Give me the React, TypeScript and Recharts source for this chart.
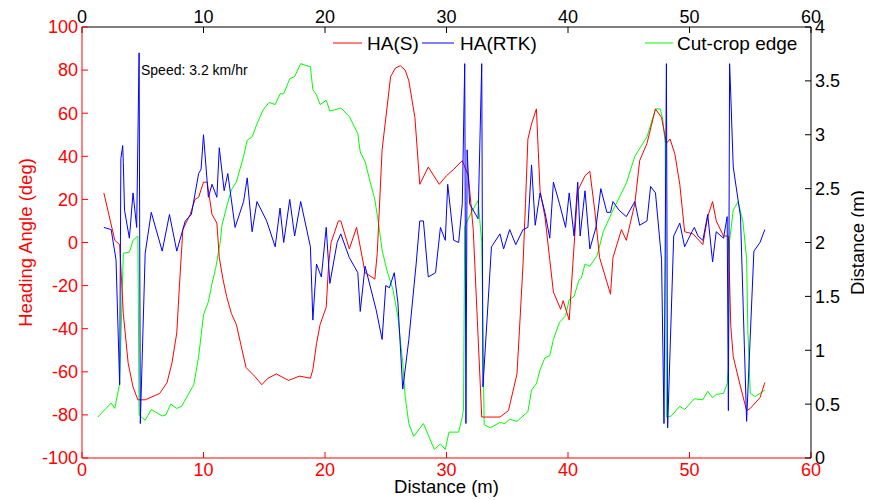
import { ComposedChart, Line, XAxis, YAxis } from 'recharts';

const xTicks = [0, 10, 20, 30, 40, 50, 60];
const angleTicks = [-100, -80, -60, -40, -20, 0, 20, 40, 60, 80, 100];
const distTicks = [0, 0.5, 1, 1.5, 2, 2.5, 3, 3.5, 4];

// HA(S) - heading angle from sensor (deg)
const haSX = [1.8, 2.7, 3.1, 3.4, 3.8, 4.2, 4.6, 5.2, 6.4, 7.0, 7.4, 7.8, 8.0, 8.3, 8.9, 9.3, 9.6, 10.0, 10.3, 10.7, 11.1, 11.3, 11.6, 11.9, 12.3, 12.7, 13.5, 14.2, 14.8, 15.3, 16.0, 17.0, 17.9, 18.8, 19.0, 19.3, 19.6, 20.1, 20.3, 20.5, 21.1, 21.3, 22.0, 22.6, 23.3, 24.1, 24.3, 24.7, 25.4, 25.8, 26.2, 26.6, 26.9, 27.4, 27.8, 28.5, 29.4, 30.0, 30.6, 31.3, 31.8, 32.2, 32.9, 33.1, 34.4, 35.1, 35.8, 36.0, 36.3, 36.5, 36.7, 37.0, 37.4, 37.7, 38.1, 38.5, 38.8, 39.4, 39.6, 40.1, 40.4, 40.8, 41.4, 41.8, 42.2, 42.6, 43.5, 43.7, 44.4, 44.8, 45.5, 45.9, 46.5, 47.2, 47.7, 48.1, 48.4, 48.8, 49.2, 49.6, 50.3, 51.1, 51.5, 51.9, 52.2, 52.8, 53.2, 53.4, 53.6, 54.2, 54.7, 55.0, 55.8, 56.2];
const haSY = [23, 1, -1, -33, -56, -67, -73, -73, -70, -65, -56, -42, -22, 6, 13, 20, 21, 28, 28, 13, 9, -7, -17, -25, -33, -38, -58, -62, -66, -63, -61, -64, -62, -63, -59, -47, -38, -30, -10, 0, 10, 10, -3, 7, -14, -17, -5, 43, 77, 81, 82, 80, 75, 58, 27, 35, 27, 31, 34, 38, 31, 6, -81, -81, -81, -78, -61, -41, -10, 18, 48, 55, 62, 24, 12, -8, -23, -31, -27, -36, -10, 24, 31, 33, 15, -7, -24, -7, 6, 1, 18, 38, 46, 62, 58, 46, 48, 41, 27, 5, 4, -1, 12, 19, 10, 3, 3, -39, -53, -67, -78, -77, -72, -65];

// HA(RTK) - heading angle from RTK GPS (deg)
const haRtkX = [1.8, 2.4, 2.8, 3.1, 3.2, 3.35, 3.4, 3.5, 3.9, 4.2, 4.5, 4.7, 4.8, 5.2, 5.7, 6.6, 7.2, 7.8, 8.5, 9.0, 9.6, 9.8, 10.0, 10.4, 10.7, 11.1, 11.3, 11.7, 12.0, 12.6, 13.3, 13.6, 14.0, 14.4, 15.2, 15.9, 16.3, 16.6, 17.1, 17.5, 18.0, 18.8, 19.0, 19.3, 19.7, 20.1, 20.4, 21.0, 21.3, 22.0, 22.7, 22.9, 23.3, 24.2, 24.7, 25.0, 25.3, 25.7, 26.0, 26.4, 26.9, 27.5, 27.8, 28.1, 28.5, 29.1, 29.5, 29.9, 30.1, 30.6, 31.0, 31.3, 31.5, 31.6, 31.7, 31.9, 32.6, 32.9, 33.0, 33.7, 34.4, 34.7, 35.2, 35.7, 36.3, 36.7, 37.0, 37.3, 37.7, 38.1, 38.5, 38.8, 39.3, 39.8, 40.1, 40.5, 40.8, 41.0, 41.4, 41.8, 42.3, 42.7, 43.2, 43.5, 43.7, 44.2, 44.8, 45.5, 45.9, 46.5, 46.8, 47.2, 47.7, 47.9, 48.1, 48.2, 48.7, 49.2, 49.6, 50.2, 50.4, 50.7, 51.1, 51.5, 51.9, 52.2, 52.8, 53.1, 53.2, 53.3, 53.4, 53.6, 54.2, 54.7, 55.3, 55.8, 56.2];
const haRtkY = [7, 6, -8, -66, 39, 45, 37, 15, 2, 23, 7, 88, -84, -5, 14, -4, 13, -4, 10, 13, 32, 34, 50, 21, 27, 21, 44, 24, 32, 7, 19, 30, 5, 19, 10, -2, 16, 0, 20, 3, 19, -2, -36, -10, -16, 7, -19, 0, 4, -7, -14, -32, -11, -31, -45, -20, -21, -14, -28, -68, -45, -10, 10, 10, -16, -14, 7, 1, 27, 1, 0, 18, 83, -84, 43, 18, 11, 83, -67, -2, 4, -3, 6, -1, 6, 7, 36, 8, 23, 14, 2, 28, 18, 7, 23, 3, 28, 3, 24, -3, 7, 25, 14, 14, 19, 15, 12, 19, 8, 10, 26, 23, -8, -84, 83, -86, 3, 9, -2, 5, 7, 3, 1, 13, -9, 5, 2, 12, -78, 83, 68, 35, 12, -83, -4, 0, 6];

// Cut-crop edge distance (m), right axis
const edgeX = [1.3, 2.4, 2.7, 3.1, 3.4, 3.9, 4.2, 4.6, 4.7, 5.2, 5.7, 6.6, 6.9, 7.3, 7.8, 8.2, 9.2, 9.6, 10.0, 10.4, 10.7, 11.0, 11.4, 11.5, 11.9, 12.3, 12.7, 13.3, 13.6, 14.0, 14.4, 14.9, 15.4, 15.9, 16.3, 16.6, 17.1, 17.5, 18.0, 18.8, 19.0, 19.3, 19.6, 20.1, 20.4, 20.8, 21.3, 22.0, 22.7, 22.9, 23.3, 23.7, 24.1, 24.4, 24.7, 25.1, 25.6, 26.0, 26.4, 26.6, 26.9, 27.3, 28.1, 29.0, 29.5, 29.9, 30.2, 31.0, 31.3, 31.4, 31.5, 32.1, 32.6, 32.9, 33.1, 33.6, 34.4, 34.8, 35.2, 35.8, 36.7, 37.0, 37.4, 37.7, 38.1, 38.5, 38.8, 39.3, 39.8, 40.1, 40.5, 40.9, 41.1, 41.4, 41.8, 42.4, 42.9, 43.7, 44.8, 45.5, 46.5, 47.2, 47.6, 47.8, 48.0, 48.1, 48.5, 49.2, 49.6, 50.4, 51.1, 51.5, 51.9, 52.2, 52.8, 53.1, 53.2, 53.3, 53.6, 54.0, 54.4, 54.7, 54.8, 55.0, 55.4, 56.2];
const edgeY = [0.38, 0.51, 0.46, 0.69, 1.9, 1.91, 2.02, 2.06, 0.4, 0.35, 0.45, 0.39, 0.4, 0.5, 0.46, 0.48, 0.68, 0.94, 1.33, 1.45, 1.62, 1.76, 2.02, 2.15, 2.33, 2.49, 2.56, 2.8, 2.95, 2.98, 3.1, 3.23, 3.3, 3.28, 3.38, 3.38, 3.52, 3.54, 3.66, 3.63, 3.42, 3.37, 3.28, 3.32, 3.22, 3.23, 3.25, 3.17, 3.01, 2.84, 2.75, 2.57, 2.4, 2.18, 1.93, 1.74, 1.56, 1.31, 0.88, 0.57, 0.32, 0.2, 0.32, 0.08, 0.13, 0.08, 0.24, 0.24, 0.38, 0.45, 2.15, 2.29, 2.39, 2.0, 0.31, 0.28, 0.33, 0.32, 0.36, 0.34, 0.43, 0.63, 0.69, 0.82, 0.93, 0.95, 1.1, 1.26, 1.32, 1.47, 1.5, 1.65, 1.67, 1.8, 1.78, 1.88, 2.1, 2.3, 2.55, 2.8, 2.98, 3.24, 3.24, 3.14, 2.92, 0.38, 0.39, 0.48, 0.45, 0.55, 0.54, 0.62, 0.56, 0.59, 0.6, 0.69, 0.85, 2.02, 2.3, 2.38, 2.19, 1.85, 1.19, 0.6, 0.57, 0.63];

const zip = (xs: number[], ys: number[]) => xs.map((x, i) => ({ x, y: ys[i] }));

const haSData = zip(haSX, haSY);
const haRtkData = zip(haRtkX, haRtkY);
const edgeData = zip(edgeX, edgeY);

const RED = '#ff0000';
const BLUE = '#0000ff';
const GREEN = '#00ff00';
const FONT = '"Liberation Sans", Arial, sans-serif';

function LegendBox() {
  const items = [
    { name: 'HA(S)', color: RED, x1: 325, x2: 354, tx: 359 },
    { name: 'HA(RTK)', color: BLUE, x1: 414, x2: 446, tx: 452 },
    { name: 'Cut-crop edge', color: GREEN, x1: 637, x2: 665, tx: 669 },
  ];
  return (
    <svg width={864} height={60} style={{ position: 'absolute', left: 0, top: 0, pointerEvents: 'none' }}>
      {items.map((it) => (
        <g key={it.name}>
          <line x1={it.x1} x2={it.x2} y1={35} y2={35} stroke={it.color} strokeWidth={1} />
          <text x={it.tx} y={42} fontSize={19} fill="#000" fontFamily={FONT}>
            {it.name}
          </text>
        </g>
      ))}
    </svg>
  );
}

export default function App() {
  return (
    <div style={{ position: 'relative', width: 864, height: 492, fontFamily: FONT, background: '#fff' }}>
      <ComposedChart width={864} height={492} margin={{ top: 0, right: 0, bottom: 0, left: 0 }}>
        <XAxis
          xAxisId="bottom"
          dataKey="x"
          type="number"
          domain={[0, 60]}
          ticks={xTicks}
          interval={0}
          allowDataOverflow
          height={42}
          stroke={RED}
          tickSize={-6}
          tickMargin={11}
          tick={{ fill: RED, fontSize: 18 }}
          label={{ value: 'Distance (m)', position: 'insideBottom', offset: 7, fill: '#000', fontSize: 18.5 }}
        />
        <XAxis
          xAxisId="top"
          orientation="top"
          dataKey="x"
          type="number"
          domain={[0, 60]}
          ticks={xTicks}
          interval={0}
          allowDataOverflow
          height={19}
          stroke="#000"
          tickSize={-6}
          tickMargin={10}
          tick={{ fill: '#000', fontSize: 18 }}
        />
        <YAxis
          yAxisId="left"
          type="number"
          domain={[-100, 100]}
          ticks={angleTicks}
          interval={0}
          allowDataOverflow
          width={74}
          stroke={RED}
          tickSize={-6}
          tickMargin={10}
          tick={{ fill: RED, fontSize: 18 }}
          label={{ value: 'Heading Angle (deg)', angle: -90, position: 'center', dx: -20, fill: RED, fontSize: 18.5 }}
        />
        <YAxis
          yAxisId="right"
          orientation="right"
          type="number"
          domain={[0, 4]}
          ticks={distTicks}
          interval={0}
          allowDataOverflow
          width={61}
          stroke="#000"
          tickSize={-6}
          tickMargin={10}
          tick={{ fill: '#000', fontSize: 18 }}
          label={{ value: 'Distance (m)', angle: -90, position: 'center', dx: 16, fill: '#000', fontSize: 18.5 }}
        />
        {/* invisible carrier so the top distance axis is drawn */}
        <Line
          data={edgeData}
          xAxisId="top"
          yAxisId="right"
          dataKey="y"
          stroke="none"
          dot={false}
          activeDot={false}
          legendType="none"
          isAnimationActive={false}
        />
        <Line
          data={edgeData}
          xAxisId="bottom"
          yAxisId="right"
          dataKey="y"
          type="linear"
          stroke={GREEN}
          strokeWidth={1}
          dot={false}
          isAnimationActive={false}
        />
        <Line
          data={haSData}
          xAxisId="bottom"
          yAxisId="left"
          dataKey="y"
          type="linear"
          stroke={RED}
          strokeWidth={1}
          dot={false}
          isAnimationActive={false}
        />
        <Line
          data={haRtkData}
          xAxisId="bottom"
          yAxisId="left"
          dataKey="y"
          type="linear"
          stroke={BLUE}
          strokeWidth={1}
          dot={false}
          isAnimationActive={false}
        />
      </ComposedChart>
      <LegendBox />
      <div style={{ position: 'absolute', left: 133, top: 54, fontSize: 14, color: '#000', whiteSpace: 'nowrap' }}>
        Speed: 3.2 km/hr
      </div>
    </div>
  );
}
